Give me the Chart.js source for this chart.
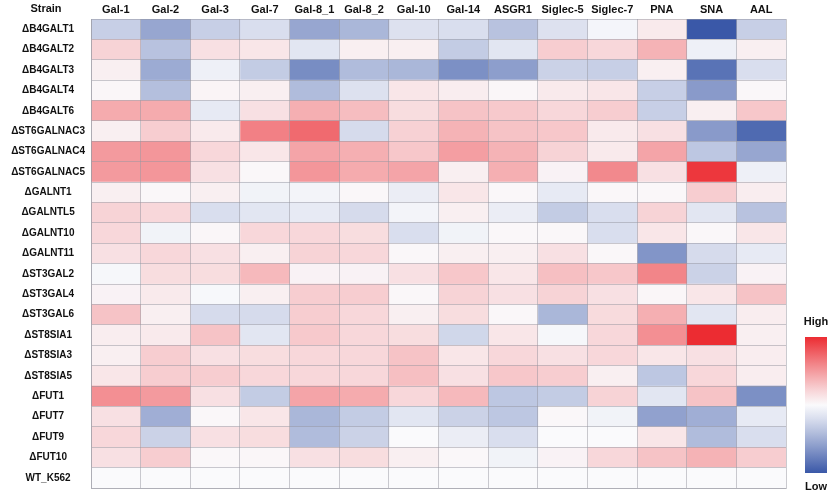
<!DOCTYPE html>
<html>
<head>
<meta charset="utf-8">
<script src="https://cdn.jsdelivr.net/npm/chart.js@4/dist/chart.umd.min.js"></script>
<style>
  html, body { margin: 0; padding: 0; background: #fff; }
  #wrap { width: 838px; height: 500px; position: relative; }
</style>
</head>
<body>
<div id="wrap"><canvas id="heatmap"></canvas></div>
<script>
const strains = [
  'ΔB4GALT1', 'ΔB4GALT2', 'ΔB4GALT3', 'ΔB4GALT4', 'ΔB4GALT6',
  'ΔST6GALNAC3', 'ΔST6GALNAC4', 'ΔST6GALNAC5', 'ΔGALNT1', 'ΔGALNTL5',
  'ΔGALNT10', 'ΔGALNT11', 'ΔST3GAL2', 'ΔST3GAL4', 'ΔST3GAL6',
  'ΔST8SIA1', 'ΔST8SIA3', 'ΔST8SIA5', 'ΔFUT1', 'ΔFUT7', 'ΔFUT9',
  'ΔFUT10', 'WT_K562'
]

const lectins = ['Gal-1', 'Gal-2', 'Gal-3', 'Gal-7', 'Gal-8_1', 'Gal-8_2', 'Gal-10',
  'Gal-14', 'ASGR1', 'Siglec-5', 'Siglec-7', 'PNA', 'SNA', 'AAL']

// relative binding, -1 = low (blue) ... +1 = high (red), one array per lectin, rows follow strains
const gal1    = [-0.30, 0.22, 0.07, 0.03, 0.42, 0.07, 0.50, 0.50, 0.07, 0.22, 0.20, 0.15, -0.03, 0.05, 0.30, 0.08, 0.07, 0.12, 0.55, 0.15, 0.20, 0.15, 0]
const gal2    = [-0.55, -0.38, -0.52, -0.40, 0.42, 0.25, 0.52, 0.52, 0.02, 0.20, -0.06, 0.20, 0.17, 0.10, 0.07, 0.10, 0.25, 0.25, 0.50, -0.50, -0.28, 0.25, 0]
const gal3    = [-0.30, 0.15, -0.08, 0.04, -0.12, 0.10, 0.20, 0.15, 0.07, -0.20, 0.03, 0.15, 0.17, -0.02, -0.22, 0.30, 0.15, 0.25, 0.15, 0.02, 0.15, 0.02, 0]
const gal7    = [-0.20, 0.12, -0.32, 0.07, 0.15, 0.62, 0.12, 0.02, -0.06, -0.15, 0.20, 0.07, 0.35, 0.07, -0.22, -0.15, 0.17, 0.20, -0.32, 0.12, 0.17, 0.03, 0]
const gal8a   = [-0.55, -0.15, -0.70, -0.42, 0.40, 0.72, 0.45, 0.52, -0.05, -0.12, 0.20, 0.22, 0.05, 0.25, 0.25, 0.27, 0.20, 0.20, 0.45, -0.45, -0.42, 0.15, 0]
const gal8b   = [-0.45, 0.07, -0.42, -0.18, 0.33, -0.22, 0.40, 0.42, 0.02, -0.22, 0.17, 0.20, 0.05, 0.25, 0.20, 0.20, 0.20, 0.20, 0.42, -0.32, -0.28, 0.17, 0]
const gal10   = [-0.18, 0.07, -0.45, 0.12, 0.17, 0.23, 0.28, 0.45, -0.10, -0.05, -0.20, 0.02, 0.15, 0.02, 0.07, 0.17, 0.30, 0.32, 0.20, -0.15, 0.00, 0.07, 0]
const gal14   = [-0.20, -0.32, -0.68, 0.08, 0.30, 0.38, 0.48, 0.07, 0.12, 0.07, -0.06, 0.07, 0.28, 0.22, 0.17, -0.25, 0.12, 0.15, 0.35, -0.28, -0.10, 0.02, 0]
const asgr1   = [-0.38, -0.15, -0.60, 0.03, 0.27, 0.30, 0.38, 0.40, 0.02, -0.10, 0.02, 0.07, 0.12, 0.15, 0.02, 0.12, 0.20, 0.28, -0.35, -0.35, -0.20, -0.06, 0]
const siglec5 = [-0.18, 0.25, -0.28, 0.10, 0.20, 0.28, 0.22, 0.05, -0.12, -0.32, 0.02, 0.15, 0.32, 0.22, -0.45, -0.03, 0.15, 0.25, -0.32, 0.02, 0.00, 0.05, 0]
const siglec7 = [-0.04, 0.20, -0.30, 0.12, 0.25, 0.10, 0.10, 0.58, 0.02, -0.20, -0.20, 0.02, 0.28, 0.15, 0.18, 0.20, 0.20, 0.07, 0.22, -0.06, 0.00, 0.20, 0]
const pna     = [0.10, 0.38, 0.07, -0.30, -0.30, 0.15, 0.45, 0.15, 0.02, 0.22, 0.12, -0.65, 0.60, 0.03, 0.40, 0.55, 0.12, -0.35, -0.15, -0.58, 0.12, 0.30, 0]
const sna     = [-1.00, -0.08, -0.85, -0.62, 0.07, -0.62, -0.35, 0.95, 0.25, -0.15, 0.02, -0.22, -0.28, 0.12, -0.15, 1.00, 0.15, 0.20, 0.30, -0.50, -0.42, 0.38, 0]
const aal     = [-0.30, 0.07, -0.20, 0.02, 0.28, -0.90, -0.55, -0.08, 0.08, -0.38, 0.12, -0.12, 0.05, 0.30, 0.08, 0.07, 0.08, 0.08, -0.68, -0.12, -0.20, 0.25, 0]

const series = [gal1, gal2, gal3, gal7, gal8a, gal8b, gal10, gal14, asgr1, siglec5, siglec7, pna, sna, aal]

const lowColor = [58, 88, 168]
const midColor = [250, 250, 252]
const highColor = [236, 44, 50]

const colorFor = (v)=>{
  const t = Math.pow(Math.min(1, Math.abs(v)), 1.1)
  const end = v < 0 ? lowColor : highColor
  const c = midColor.map((m, i)=> Math.round(m + (end[i] - m) * t))
  return `rgb(${c[0]}, ${c[1]}, ${c[2]})`
}

const datasets = series.map((vals, i)=>({
  label: lectins[i],
  data: strains.map(()=> 1),
  backgroundColor: vals.map(colorFor),
  borderWidth: 0,
  barPercentage: 1,
  categoryPercentage: 1
}))

const gridColor = 'rgba(150, 150, 160, 0.5)'

// "Strain" header and the High/Low colour key
const extras = {
  id: 'extras',
  afterDraw(chart){
    const ctx = chart.ctx
    const area = chart.chartArea
    ctx.save()
    ctx.fillStyle = '#111'
    ctx.font = 'bold 11px "Liberation Sans", Arial, sans-serif'
    ctx.textAlign = 'center'
    ctx.textBaseline = 'middle'
    ctx.fillText('Strain', 46, 9)

    const x = area.right + 19, w = 22, top = 337, bottom = 473
    const grad = ctx.createLinearGradient(0, top, 0, bottom)
    for(let s = 0; s <= 10; s++){
      grad.addColorStop(s / 10, colorFor(1 - s / 5))
    }
    ctx.fillStyle = grad
    ctx.fillRect(x, top, w, bottom - top)

    ctx.fillStyle = '#111'
    ctx.font = 'bold 11px "Liberation Sans", Arial, sans-serif'
    ctx.fillText('High', x + w / 2, 322)
    ctx.fillText('Low', x + w / 2, 487)
    ctx.restore()
  }
}

new Chart('heatmap', {
  type: 'bar',
  data: { labels: strains, datasets: datasets },
  plugins: [extras],
  options: {
    indexAxis: 'y',
    responsive: true,
    maintainAspectRatio: false,
    animation: false,
    layout: { padding: { top: 0, right: 52, bottom: 9, left: 0 } },
    plugins: { legend: { display: false }, tooltip: { enabled: false } },
    scales: {
      x: {
        type: 'linear',
        stacked: true,
        min: 0,
        max: lectins.length,
        position: 'bottom',
        ticks: { display: false, stepSize: 1 },
        grid: { color: gridColor, lineWidth: 1, drawTicks: false, z: 1 },
        border: { display: true, color: gridColor, z: 1 }
      },
      top: {
        type: 'category',
        labels: lectins,
        position: 'top',
        offset: true,
        grid: { display: false, drawTicks: false },
        border: { display: false },
        ticks: { color: '#111', font: { family: '"Liberation Sans", Arial, sans-serif', size: 11, weight: 'bold' }, padding: 2, maxRotation: 0, autoSkip: false },
        afterFit: (scale)=>{ scale.height = 19 }
      },
      y: {
        type: 'category',
        stacked: true,
        offset: true,
        grid: { color: gridColor, lineWidth: 1, drawTicks: false, offset: true, z: 1 },
        border: { display: true, color: gridColor, z: 1 },
        ticks: { color: '#111', crossAlign: 'center', padding: 6, autoSkip: false, font: { family: '"Liberation Sans", Arial, sans-serif', size: 10, weight: 'bold' } },
        afterFit: (scale)=>{ scale.width = 91 }
      }
    }
  }
})
</script>
</body>
</html>
